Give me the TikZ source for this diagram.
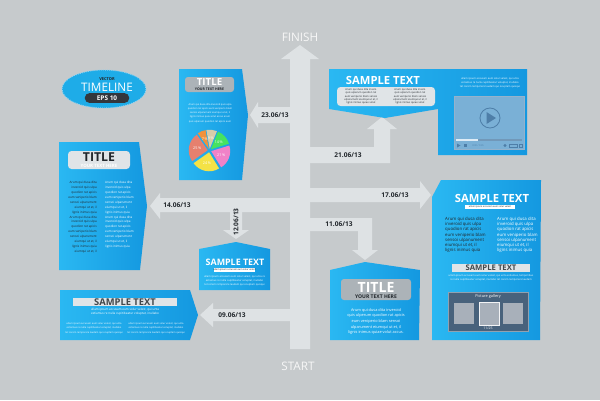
\documentclass[tikz,border=0pt]{standalone}
\usepackage{fontspec}
\setmainfont{Open Sans}
\usetikzlibrary{calc}

\definecolor{bggray}{RGB}{198,202,204}
\definecolor{branchgray}{RGB}{222,226,228}
\definecolor{panelA}{RGB}{42,184,242}
\definecolor{panelB}{RGB}{20,152,224}
\definecolor{pillgray}{RGB}{172,179,184}
\definecolor{pilllight}{RGB}{224,228,231}
\definecolor{inkdark}{RGB}{33,38,43}
\definecolor{playerblue}{RGB}{122,176,214}
\definecolor{playerline}{RGB}{78,126,168}
\definecolor{gallerybg}{RGB}{72,98,124}
\definecolor{thumbgray}{RGB}{168,176,186}
\definecolor{pieBeige}{RGB}{216,204,170}
\definecolor{pieGreen}{RGB}{70,226,96}
\definecolor{piePink}{RGB}{240,130,200}
\definecolor{pieYellow}{RGB}{244,226,70}
\definecolor{pieSalmon}{RGB}{230,128,110}
\definecolor{pieOrange}{RGB}{240,146,60}
\definecolor{ellipseblue}{RGB}{30,172,232}
\definecolor{ellipseedge}{RGB}{140,210,242}

\tikzset{
    panel/.style = {
    	left color=panelA,
    	right color=panelB
    },
    branch/.style = {
    	fill=branchgray
    },
    datelbl/.style = {
    	text=inkdark,
    	font=\bfseries\fontsize{5.6}{6}\selectfont,
    	inner sep=0pt
    },
    endtxt/.style = {
    	text=white!94!gray,
    	font=\fontsize{10}{11}\selectfont,
    	inner sep=0pt
    },
    headtxt/.style = {
    	text=white,
    	font=\bfseries\fontsize{9.6}{10}\selectfont,
    	inner sep=0pt
    },
    pill/.style = {
    	fill=pillgray,
    	rounded corners=2.5pt
    },
    tinytxt/.style = {
    	font=\fontsize{2.4}{3.4}\selectfont,
    	inner sep=0pt,
    	align=center
    }
}

\begin{document}
\begin{tikzpicture}[x=0.3mm, y=-0.3mm]

	% Fond
	\useasboundingbox (0,0) rectangle (600,400);
	\fill[bggray] (0,0) rectangle (600,400);

	% Tronc principal
	\path[branch] (290,349) -- (290,59) -- (281,59) -- (300,45) -- (319,59) -- (310,59) -- (310,349) -- cycle;
	\node[endtxt] (finish) at (300,37) {FINISH};
	\node[endtxt] (start) at (298,366) {START};

	% Branches et dates
	\path[branch] (291,107) -- (258,107) -- (258,102) -- (250,115) -- (258,128) -- (258,123) -- (291,123) -- cycle;
	\path[branch] (309,147) -- (374,147) -- (374,129) -- (367,129) -- (382,117) -- (397,129) -- (390,129) -- (390,163) -- (309,163) -- cycle;
	\path[branch] (309,188) -- (420,188) -- (420,181) -- (431,195) -- (420,209) -- (420,202) -- (309,202) -- cycle;
	\path[branch] (309,218) -- (372,218) -- (372,250) -- (378,250) -- (365,260) -- (352,250) -- (358,250) -- (358,231) -- (309,231) -- cycle;
	\path[branch] (291,198) -- (160,198) -- (160,193) -- (150,206) -- (160,219) -- (160,212) -- (230,212) -- (230,230) -- (223,230) -- (236,239) -- (249,230) -- (242,230) -- (242,212) -- (291,212) -- cycle;
	\path[branch] (291,309) -- (213,309) -- (213,303) -- (200,315) -- (213,327) -- (213,321) -- (291,321) -- cycle;

	\node[datelbl] (d2306) at (275,115) {23.06/13};
	\node[datelbl] (d2106) at (348,155) {21.06/13};
	\node[datelbl] (d1706) at (395,195) {17.06/13};
	\node[datelbl] (d1406) at (177,205) {14.06/13};
	\node[datelbl, rotate=90] (d1206) at (236,222) {12.06/13};
	\node[datelbl] (d1106) at (339,224) {11.06/13};
	\node[datelbl] (d0906) at (232,315) {09.06/13};

	% Ellipse timeline
	\draw[fill=ellipseblue, draw=ellipseedge, densely dotted, line width=0.8pt] (104,89) ellipse [x radius=42, y radius=19];
	\node[text=inkdark, font=\bfseries\fontsize{3.4}{4}\selectfont, inner sep=0pt] (vector) at (107,79) {VECTOR};
	\node[text=white, font=\fontsize{10}{11}\selectfont, inner sep=0pt] (timeline) at (107,87) {TIMELINE};
	\node[fill=inkdark!92, rounded corners=4.2pt, minimum width=38pt, minimum height=8.5pt, inner sep=0pt,
		text=white, font=\bfseries\fontsize{5.5}{6}\selectfont] (eps) at (107,98) {EPS 10};

	% Panneau camembert (23.06)
	\path[panel] (179,69) -- (242,69) -- (248,115) -- (242,180) -- (179,180) -- cycle;
	\path[pill] (185,77) rectangle (234,92);
	\node[headtxt, font=\bfseries\fontsize{8.3}{9}\selectfont] (pietitle) at (209.5,82.5) {TITLE};
	\node[text=inkdark, font=\bfseries\fontsize{3}{3}\selectfont, inner sep=0pt] (piesub) at (209.5,89.3) {YOUR TEXT HERE};
	\node[tinytxt, text=white, font=\fontsize{2.1}{3.6}\selectfont] (pietext) at (210,113) {Arum qui dusa dita inveroid quis ulpa\\quodion rat apicis eum veniperio blam\\sensoi ulparument eiumqui ut et, il\\lignis inimus quia volut accus arum\\quis ulperum quodion rat apicis eum};
	\begin{scope}[shift={(209.5,150.5)}, y=0.3mm]
		\foreach \sa/\sb/\scol/\spct in {100/67.6/pieBeige/9, 67.6/17.2/pieGreen/14, 17.2/-58.4/piePink/21,
			-58.4/-144.8/pieYellow/24, -144.8/-234.8/pieSalmon/25, -234.8/-260/pieOrange/7}{
			\pgfmathsetmacro\smid{(\sa+\sb)/2}
			\fill[\scol] (\smid:1.8) -- ++(\sa:19) arc[start angle=\sa, end angle=\sb, radius=19] -- cycle;
			\node[text=white, font=\fontsize{3.2}{4}\selectfont, inner sep=0pt] (pie\spct) at (\smid:12.5) {\spct\,\%};
		}
	\end{scope}

	% Panneau video (21.06)
	\path[panel] (329,69) -- (527,69) -- (527,155) -- (438,155) -- (438,109) -- (385,118) -- (329,109) -- cycle;
	\node[headtxt] (vidhead) at (383,80) {SAMPLE TEXT};
	\path[fill=pilllight, rounded corners=3pt] (337,87) rectangle (435,106);
	\node[tinytxt, text=inkdark, font=\fontsize{2.2}{2.9}\selectfont] (vidcolA) at (361,96.5) {Arum qui dusa dita invero\\quis ulperum quodion rat\\eum veniperio blam sensoi\\ulparument eiumqui ut et, il\\lignis inimus quiae volut};
	\node[tinytxt, text=inkdark, font=\fontsize{2.2}{2.9}\selectfont] (vidcolB) at (410,96.5) {Arum qui dusa dita invero\\quis ulperum quodion rat\\eum veniperio blam sensoi\\ulparument eiumqui ut et, il\\lignis inimus quiae volut};
	\node[tinytxt, text=white, font=\fontsize{2.2}{3.2}\selectfont] (vidtext) at (490,83) {ullam ipsum accusam eum solur velest, qui unta\\estiamus re nulla cupitibeatur voluptat, inullabo\\tet corem remporere laudam qui ocuptam quisqui};
	\path[fill=playerblue, draw=playerline!60, line width=0.4pt] (454,96) rectangle (524,149);
	\draw[playerline, line width=0.7pt] (490,118) circle [radius=10];
	\fill[playerline] (486.5,112) -- (496,118) -- (486.5,124) -- cycle;
	\fill[playerline!80] (456,139) rectangle (522,141);
	\fill[white!75!playerblue] (456,139) rectangle (478,141);
	\fill[playerline] (457,143.5) -- (460.5,145.5) -- (457,147.5) -- cycle;
	\fill[playerline] (464,144) rectangle (467,147);
	\node[text=playerline, font=\fontsize{2}{2}\selectfont, inner sep=0pt] (vidtime) at (478,145.5) {0:00 / 0:35};
	\fill[playerline] (505,145.5) circle [radius=1.6];
	\draw[playerline, line width=0.3pt] (509,144) rectangle (517,147) (519,144) rectangle (522,147);

	% Panneau TITLE gauche (14.06)
	\path[panel] (59,142) -- (139,142) -- (147,206) -- (140,270) -- (59,270) -- cycle;
	\path[fill=pilllight, rounded corners=3pt] (68,151) rectangle (130,169);
	\node[headtxt, text=inkdark, font=\bfseries\fontsize{10.5}{11}\selectfont] (lefttitle) at (99,157.5) {TITLE};
	\node[text=white, font=\bfseries\fontsize{3.8}{4}\selectfont, inner sep=0pt] (leftsub) at (99,165.5) {YOUR TEXT HERE};
	\node[tinytxt, align=right, anchor=north east, text=inkdark, font=\fontsize{2.6}{4.2}\selectfont] (leftcolA) at (97,181) {Arum qui dusa dita\\inveroid quis ulpa\\quodion rat apicis\\eum veniperio blam\\sensoi ulparument\\eiumqui ut et, il\\lignis inimus quia\\Arum qui dusa dita\\inveroid quis ulpa\\quodion rat apicis\\eum veniperio blam\\sensoi ulparument\\eiumqui ut et, il\\lignis inimus quia\\eiumqui ut et, il};
	\node[tinytxt, align=left, anchor=north west, text=white, font=\fontsize{2.6}{4.2}\selectfont] (leftcolB) at (105,181) {Arum qui dusa dita\\inveroid quis ulpa\\quodion rat apicis\\eum veniperio blam\\sensoi ulparument\\eiumqui ut et, il\\lignis inimus quia\\Arum qui dusa dita\\inveroid quis ulpa\\quodion rat apicis\\eum veniperio blam\\sensoi ulparument\\eiumqui ut et, il\\lignis inimus quia};

	% Panneau 12.06
	\path[panel] (199,249) -- (236,242) -- (270,249) -- (270,290) -- (199,290) -- cycle;
	\node[headtxt, font=\bfseries\fontsize{7.6}{8}\selectfont] (midhead) at (235,262) {SAMPLE TEXT};
	\path[fill=white] (214,268) rectangle (255,272);
	\node[tinytxt, text=inkdark, font=\fontsize{2}{2}\selectfont] (midbar) at (234.5,270) {ullam ipsum accusam eum solur velest};
	\node[tinytxt, text=white, font=\fontsize{2.2}{3.5}\selectfont] (midtext) at (234.5,281) {ullam ipsum accusam eum solur velest, qui unta re\\estiamus re nulla cupitibeatur voluptat, inullabo\\tet corem remporere laudam qui ocuptam quisqui};

	% Panneau TITLE bas (11.06)
	\path[panel] (330,270) -- (365,262) -- (420,270) -- (419,340) -- (330,340) -- cycle;
	\path[pill] (341,279) rectangle (411,300);
	\node[headtxt, font=\bfseries\fontsize{12}{13}\selectfont] (lowtitle) at (376,287) {TITLE};
	\node[text=inkdark, font=\bfseries\fontsize{4.3}{5}\selectfont, inner sep=0pt] (lowsub) at (376,297) {YOUR TEXT HERE};
	\node[tinytxt, text=white, font=\fontsize{3.3}{4.9}\selectfont] (lowtext) at (376,321.5) {Arum qui dusa dita inveroid\\quis ulperum quodion rat apicis\\eum veniperio blam sensoi\\ulparument eiumqui ut et, il\\lignis inimus quiae volut accus.};

	% Panneau droit (17.06)
	\path[panel] (441,180) -- (541,180) -- (540,340) -- (432,340) -- (432,197) -- cycle;
	\node[headtxt] (righthead) at (492,198) {SAMPLE TEXT};
	\path[fill=white] (465,205) rectangle (515,209);
	\node[tinytxt, text=inkdark, font=\fontsize{2}{2}\selectfont] (rightbar) at (490,207) {ullam ipsum accusam eum solur velest};
	\node[tinytxt, align=left, anchor=north west, text=inkdark, font=\fontsize{3.7}{4.4}\selectfont] (rightcolA) at (445,217) {Arum qui dusa dita\\inveroid quis ulpa\\quodion rat apicis\\eum veniperio blam\\sensoi ulpanument\\eiumqui ut et, il\\lignis inimus quia};
	\node[tinytxt, align=left, anchor=north west, text=white, font=\fontsize{3.7}{4.4}\selectfont] (rightcolB) at (497,217) {Arum qui dusa dita\\inveroid quis ulpa\\quodion rat apicis\\eum veniperio blam\\sensoi ulpanument\\eiumqui ut et, il\\ligins inimus quia};
	\path[fill=pilllight] (452,264) rectangle (530,272);
	\node[headtxt, text=inkdark!85, font=\bfseries\fontsize{6.6}{7}\selectfont] (rightsub) at (491,268) {SAMPLE TEXT};
	\node[tinytxt, text=white, font=\fontsize{2.2}{3.4}\selectfont] (righttext) at (491,278) {ullam ipsum accusam eum solur velest, qui unta estiamus, temporibus\\re nulla cupitibeatur voluptat, inullabo tet corem remporere laudam};
	\path[fill=gallerybg, draw=white!40!gallerybg, line width=0.5pt] (448,292) rectangle (528,331);
	\node[text=white, font=\fontsize{3.3}{4}\selectfont, inner sep=0pt] (galtitle) at (488,296.5) {Picture gallery};
	\fill[thumbgray] (454,303) rectangle (474,324);
	\path[fill=thumbgray, draw=white!85!thumbgray, line width=0.6pt] (479,302) rectangle (499,325);
	\fill[thumbgray] (503,303) rectangle (523,324);
	\node[text=white, font=\fontsize{3}{3}\selectfont, inner sep=0pt] (galcount) at (488,328.5) {11/25};

	% Panneau bas gauche (09.06)
	\path[panel] (60,290) -- (190,290) -- (198,315) -- (190,340) -- (60,340) -- cycle;
	\path[fill=pilllight] (73,298) rectangle (177,306);
	\node[headtxt, text=inkdark!85, font=\bfseries\fontsize{8}{8}\selectfont] (bothead) at (125,302) {SAMPLE TEXT};
	\node[tinytxt, text=white, font=\fontsize{2.6}{3.6}\selectfont] (bottext) at (125,312) {ullam ipsum accusam eum solur velest, qui unta\\estiamus re nulla cupitibeatur voluptat, inullabo};
	\node[tinytxt, text=white, font=\fontsize{2.1}{3.9}\selectfont] (botcolA) at (94,328) {ullam ipsum accusam eum solur velest, qui unta\\estiamus re nulla cupitibeatur voluptat, inullabo\\tet corem remporere laudam qui ocuptam quisqui};
	\node[tinytxt, text=white, font=\fontsize{2.1}{3.9}\selectfont] (botcolB) at (156,328) {ullam ipsum accusam eum solur velest, qui unta\\estiamus re nulla cupitibeatur voluptat, inullabo\\tet corem remporere laudam qui ocuptam quisqui};

\end{tikzpicture}
\end{document}
